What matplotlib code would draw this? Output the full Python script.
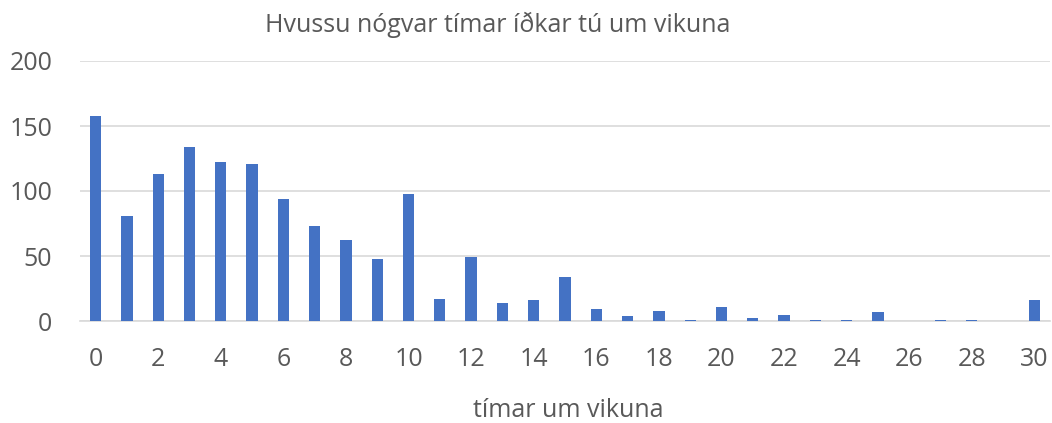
import matplotlib.pyplot as plt
import numpy as np

hours = list(range(31))
counts = [158, 81, 113, 134, 122, 121, 94, 73, 62, 48, 98, 17, 49, 14, 16, 34,
          9, 4, 8, 1, 11, 2, 5, 1, 1, 7, 0, 1, 1, 0, 16]
yticks = [0, 50, 100, 150, 200]

plt.rcParams['font.family'] = ['Open Sans', 'DejaVu Sans']
grey = '#595959'

fig = plt.figure(figsize=(10.52, 4.23), dpi=100)
ax = fig.add_axes([80 / 1052, 1 - 321 / 423, 970 / 1052, 260 / 423])
ax.bar(hours, counts, width=0.36, color='#4472C4', zorder=3)

ax.set_xlim(-0.5, 30.5)
ax.set_ylim(0, 200)
ax.set_yticks(yticks)
ax.set_xticks(hours[::2])
ax.grid(axis='y', color='#D9D9D9', linewidth=1.2, zorder=0)
for s in ['top', 'right', 'left']:
    ax.spines[s].set_visible(False)
ax.spines['bottom'].set_color('#D9D9D9')
ax.spines['bottom'].set_linewidth(1.2)
ax.tick_params(length=0, labelsize=18, colors=grey)
ax.tick_params(axis='x', pad=19)
ax.tick_params(axis='y', pad=20)

fig.text(498 / 1052, 1 - 25 / 423, 'Hvussu nógvar tímar íðkar tú um vikuna',
         ha='center', va='center', fontsize=18, color=grey)
fig.text(568 / 1052, 1 - 410 / 423, 'tímar um vikuna',
         ha='center', va='center', fontsize=18, color=grey)

plt.savefig('out.png', dpi=100)
